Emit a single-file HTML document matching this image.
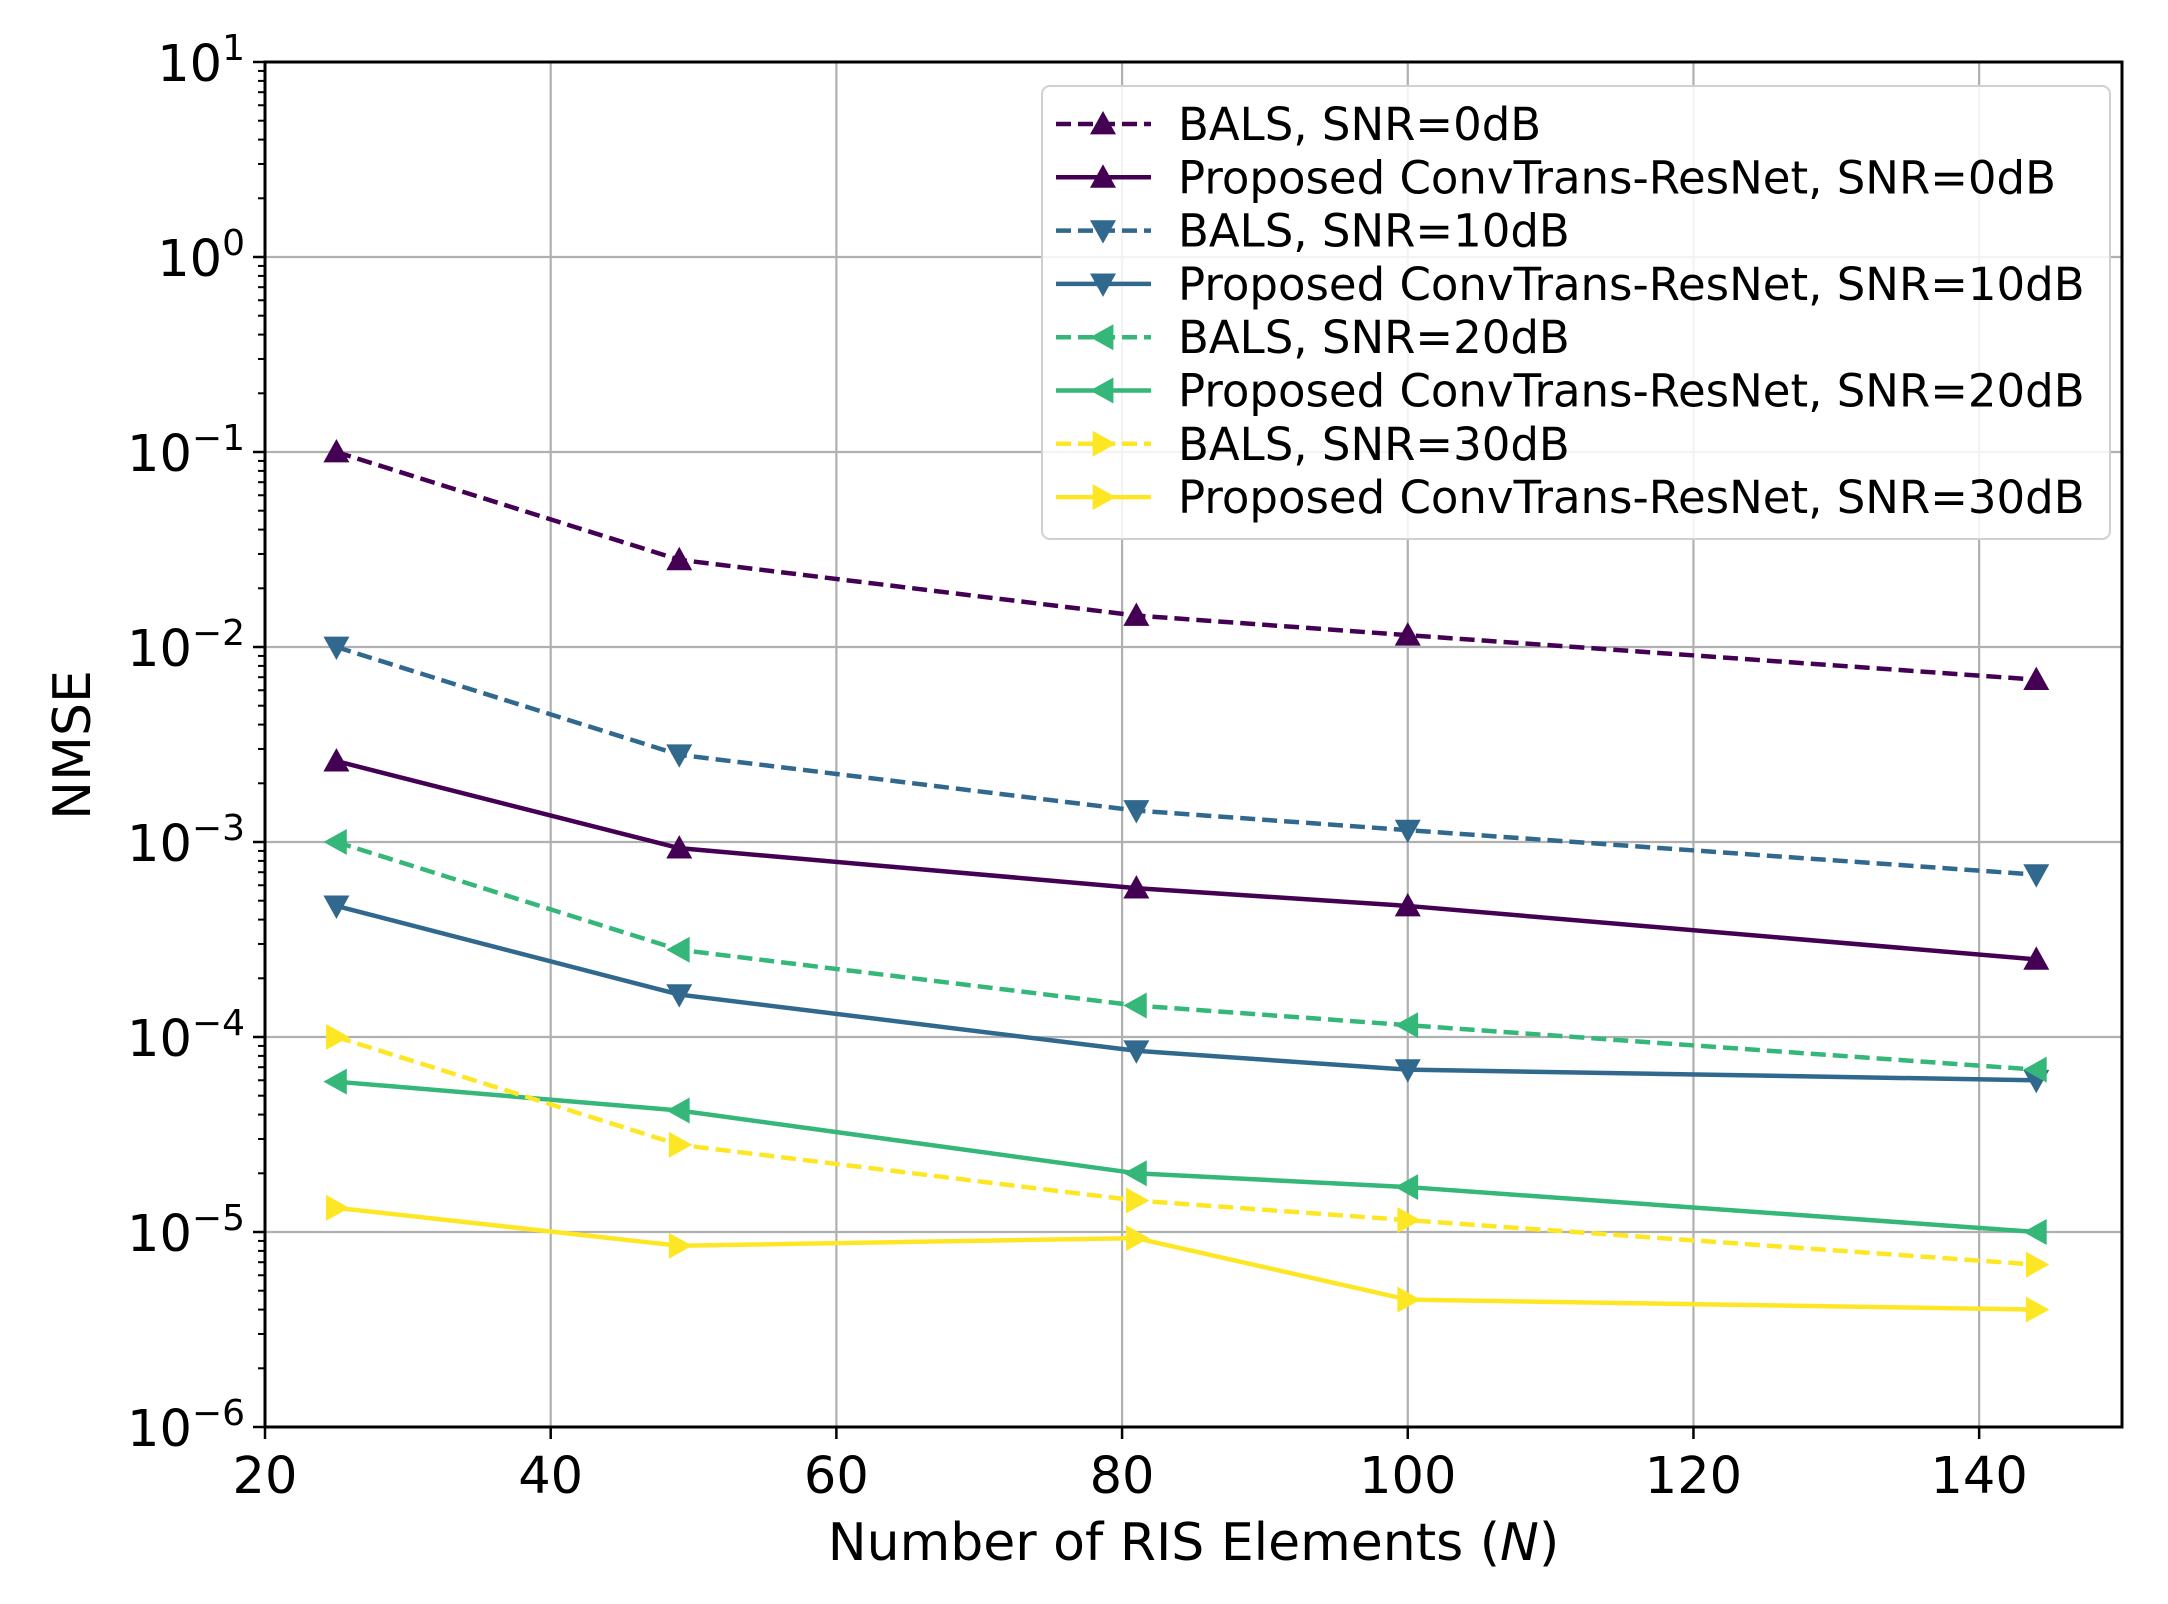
<!DOCTYPE html>
<html><head><meta charset="utf-8"><style>html,body{margin:0;padding:0;background:#fff}svg{display:block}</style></head>
<body>
<svg id="chart" width="2168" height="1604" viewBox="0 0 2168 1604" xmlns="http://www.w3.org/2000/svg" font-family="'DejaVu Sans','Liberation Sans',sans-serif"></svg>
<script>
const xValues = [25, 49, 81, 100, 144];
const balsSnr0 = [0.1, 0.028, 0.0145, 0.0115, 0.0068];
const propSnr0 = [0.0026, 0.00093, 0.00058, 0.00047, 0.00025];
const balsSnr10 = [0.01, 0.0028, 0.00145, 0.00115, 0.00068];
const propSnr10 = [0.00047, 0.000165, 0.000085, 0.000068, 0.00006];
const balsSnr20 = [0.001, 0.00028, 0.000145, 0.000115, 0.000068];
const propSnr20 = [0.000059, 0.000042, 0.00002, 0.000017, 0.00001];
const balsSnr30 = [0.0001, 0.000028, 0.0000145, 0.0000115, 0.0000068];
const propSnr30 = [0.0000133, 0.0000085, 0.0000093, 0.0000045, 0.000004];
const xTicks = [20, 40, 60, 80, 100, 120, 140];
const yExponents = [1, 0, -1, -2, -3, -4, -5, -6];
const seriesLabels = ["BALS, SNR=0dB","Proposed ConvTrans-ResNet, SNR=0dB","BALS, SNR=10dB","Proposed ConvTrans-ResNet, SNR=10dB","BALS, SNR=20dB","Proposed ConvTrans-ResNet, SNR=20dB","BALS, SNR=30dB","Proposed ConvTrans-ResNet, SNR=30dB"];

const NS="http://www.w3.org/2000/svg";
const svg=document.getElementById('chart');
const L=265,R=2122,T=62,B=1427;
const xMin=20,xMax=150,yMinE=-6,yMaxE=1;
const sx=v=>L+(v-xMin)/(xMax-xMin)*(R-L);
const sy=v=>T+(yMaxE-Math.log10(v))/(yMaxE-yMinE)*(B-T);
function mk(tag,attrs,parent){const e=document.createElementNS(NS,tag);for(const k in attrs)e.setAttribute(k,attrs[k]);(parent||svg).appendChild(e);return e;}

const grid=mk('g',{});


xTicks.forEach(t=>{mk('line',{x1:sx(t),x2:sx(t),y1:T,y2:B,stroke:'#b0b0b0','stroke-width':2.2},grid);});
yExponents.forEach(e=>{const y=sy(Math.pow(10,e));mk('line',{x1:L,x2:R,y1:y,y2:y,stroke:'#b0b0b0','stroke-width':2.2},grid);});

const axes=mk('g',{});


xTicks.forEach(t=>{
  mk('line',{x1:sx(t),x2:sx(t),y1:B,y2:B+12,stroke:'#000','stroke-width':2.5},axes);
  const tx=mk('text',{x:sx(t),y:B+66,'text-anchor':'middle','font-size':51,fill:'#000'},axes);
  
  
  tx.textContent=t;
});
yExponents.forEach(e=>{
  const y=sy(Math.pow(10,e));
  mk('line',{x1:L-12,x2:L,y1:y,y2:y,stroke:'#000','stroke-width':2.5},axes);
  if(e>yMinE){for(let m=2;m<=9;m++){const yy=sy(m*Math.pow(10,e-1));mk('line',{x1:L-7,x2:L,y1:yy,y2:yy,stroke:'#000','stroke-width':2},axes);}}
  const tx=mk('text',{x:L-20,y:y+19,'text-anchor':'end','font-size':51,fill:'#000'},axes);
  
  
  const a=document.createElementNS(NS,'tspan');a.textContent='10';tx.appendChild(a);
  const b=document.createElementNS(NS,'tspan');b.setAttribute('dy','-21');b.setAttribute('font-size','36');b.textContent=(e<0?'\u2212'+(-e):''+e);tx.appendChild(b);
});
mk('rect',{x:L,y:T,width:R-L,height:B-T,fill:'none',stroke:'#000','stroke-width':3},axes);

const xl=mk('text',{x:(L+R)/2,y:1560,'text-anchor':'middle','font-size':52,fill:'#000'});


xl.innerHTML='Number of RIS Elements (<tspan font-style="italic">N</tspan>)';
const yl=mk('text',{x:0,y:0,'text-anchor':'middle','font-size':52,fill:'#000',transform:'translate(90,745) rotate(-90)'});


yl.textContent='NMSE';

function marker(type,x,y,color,parent){
  const s=13;let pts;
  if(type==='up')pts=[[x,y-s],[x+s,y+s*0.8],[x-s,y+s*0.8]];
  else if(type==='down')pts=[[x,y+s],[x+s,y-s*0.8],[x-s,y-s*0.8]];
  else if(type==='left')pts=[[x-s,y],[x+s*0.8,y-s],[x+s*0.8,y+s]];
  else pts=[[x+s,y],[x-s*0.8,y-s],[x-s*0.8,y+s]];
  return mk('polygon',{points:pts.map(p=>p.join(',')).join(' '),fill:color},parent);
}
const seriesData=[balsSnr0,propSnr0,balsSnr10,propSnr10,balsSnr20,propSnr20,balsSnr30,propSnr30];
const colors=['#440154','#440154','#31688e','#31688e','#35b779','#35b779','#fde725','#fde725'];
const markers=['up','up','down','down','left','left','right','right'];
const names=['bals-snr0-line','proposed-snr0-line','bals-snr10-line','proposed-snr10-line','bals-snr20-line','proposed-snr20-line','bals-snr30-line','proposed-snr30-line'];
seriesData.forEach((d,i)=>{
  const g=mk('g',{});
  
  
  const dashed=i%2===0;
  mk('polyline',{points:d.map((v,j)=>sx(xValues[j])+','+sy(v)).join(' '),fill:'none',stroke:colors[i],'stroke-width':4.5,'stroke-dasharray':dashed?'15,7':'none'},g);
  d.forEach((v,j)=>{const m=marker(markers[i],sx(xValues[j]),sy(v),colors[i],g);
    
    });
});

const lg=mk('g',{});


mk('rect',{x:1042,y:86,width:1068,height:453,rx:8,fill:'#fff','fill-opacity':0.85,stroke:'#d0d0d0','stroke-width':2},lg);
seriesLabels.forEach((lab,i)=>{
  const y=124+i*53.3;
  const e=mk('g',{},lg);
  
  
  mk('line',{x1:1056,x2:1151,y1:y,y2:y,stroke:colors[i],'stroke-width':4.5,'stroke-dasharray':i%2===0?'15,7':'none'},e);
  marker(markers[i],1103,y,colors[i],e);
  const t=mk('text',{x:1178,y:y+16,'font-size':45,fill:'#000'},e);
  t.textContent=lab;
});
</script>
</body></html>
